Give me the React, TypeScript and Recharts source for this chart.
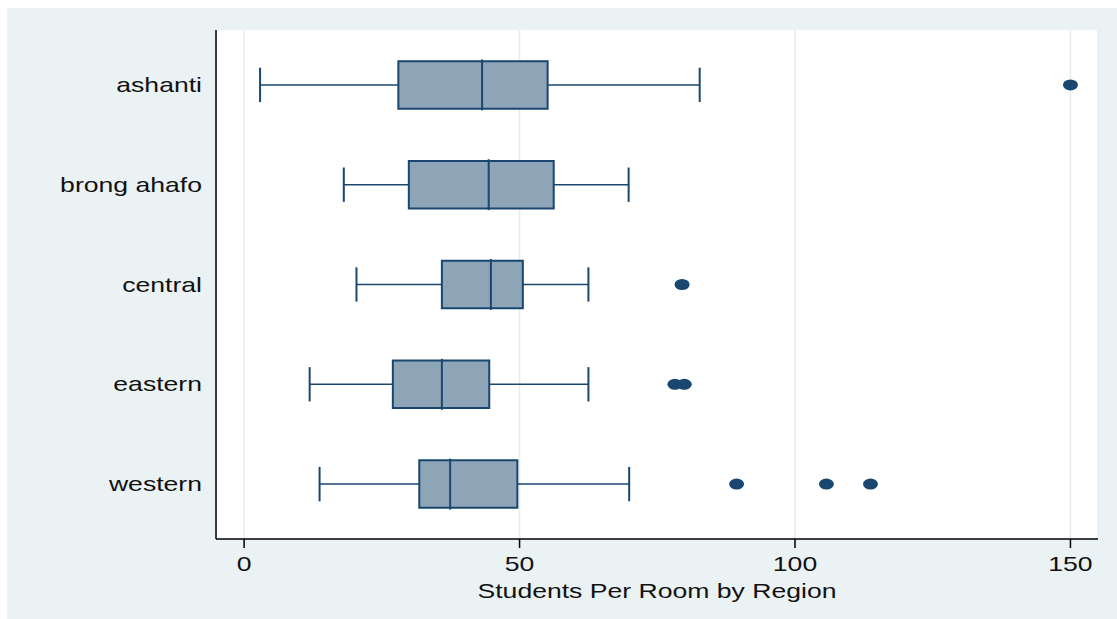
import {
  ComposedChart,
  XAxis,
  YAxis,
  CartesianGrid,
  Scatter,
  ReferenceArea,
  ReferenceLine,
} from 'recharts'

const regions = ['ashanti', 'brong ahafo', 'central', 'eastern', 'western']
const lowWhisker = [2.9, 18.1, 20.4, 11.9, 13.7]
const lowerQuartile = [28.0, 29.9, 35.9, 27.0, 31.8]
const median = [43.2, 44.4, 44.8, 35.9, 37.4]
const upperQuartile = [55.1, 56.2, 50.6, 44.5, 49.6]
const highWhisker = [82.7, 69.8, 62.5, 62.5, 69.9]

const outlierRegion = ['ashanti', 'central', 'eastern', 'eastern', 'western', 'western', 'western']
const outlierValue = [150, 79.5, 78.2, 79.9, 89.4, 105.7, 113.7]

const xTicks = [0, 50, 100, 150]

const NAVY = '#1A476F'
const BOX_FILL = '#8EA4B7'
const BG = '#EAF2F3'
const FONT = '"Liberation Sans", Arial, sans-serif'
const STRETCH = 1.33

const outliers = outlierValue.map((v, i) => ({
  x: v,
  y: regions.indexOf(outlierRegion[i]) + 1,
}))

function YTick({ x, y, payload }: any) {
  return (
    <text
      transform={`translate(${x},${y + 7}) scale(${STRETCH},1)`}
      textAnchor="end"
      fontSize={20}
      fontFamily={FONT}
      fill="#111"
    >
      {regions[payload.value - 1]}
    </text>
  )
}

function XTick({ x, y, payload }: any) {
  return (
    <text
      transform={`translate(${x},${y + 21}) scale(${STRETCH},1)`}
      textAnchor="middle"
      fontSize={20}
      fontFamily={FONT}
      fill="#111"
    >
      {payload.value}
    </text>
  )
}

function AxisTitle({ viewBox }: any) {
  const { x, y, width } = viewBox
  return (
    <text
      transform={`translate(${x + width / 2},${y + 59}) scale(${STRETCH},1)`}
      textAnchor="middle"
      fontSize={20}
      fontFamily={FONT}
      fill="#111"
    >
      Students Per Room by Region
    </text>
  )
}

const Dot = (props: any) => (
  <ellipse cx={props.cx} cy={props.cy} rx={7.5} ry={5.5} fill={NAVY} />
)

export default function App() {
  return (
    <div
      style={{
        position: 'fixed',
        left: 7,
        top: 8,
        width: 1110,
        height: 611,
        background: BG,
      }}
    >
      <ComposedChart
        width={1110}
        height={611}
        margin={{ top: 22, right: 19, bottom: 20, left: 0 }}
      >
        <CartesianGrid horizontal={false} stroke="#E3EDF0" strokeWidth={1.5} fill="#fff" />
        <XAxis
          type="number"
          dataKey="x"
          domain={[-5.1, 155]}
          ticks={xTicks}
          allowDataOverflow
          height={60}
          tickSize={9}
          tickLine={{ stroke: '#000', strokeWidth: 1.5 }}
          axisLine={{ stroke: '#000', strokeWidth: 1.5 }}
          tick={<XTick />}
          label={{ value: 'Students Per Room by Region', content: <AxisTitle /> }}
        />
        <YAxis
          type="number"
          dataKey="y"
          domain={[0.45, 5.55]}
          ticks={[1, 2, 3, 4, 5]}
          reversed
          allowDataOverflow
          width={209}
          tickSize={0}
          tickMargin={14}
          tickLine={false}
          axisLine={{ stroke: '#000', strokeWidth: 1.5 }}
          tick={<YTick />}
        />
        {regions.map((r, i) => {
          const pos = i + 1
          return [
            <ReferenceLine
              key={`wl-${r}`}
              segment={[{ x: lowWhisker[i], y: pos }, { x: lowerQuartile[i], y: pos }]}
              stroke={NAVY}
              strokeWidth={1.5}
            />,
            <ReferenceLine
              key={`wh-${r}`}
              segment={[{ x: upperQuartile[i], y: pos }, { x: highWhisker[i], y: pos }]}
              stroke={NAVY}
              strokeWidth={1.5}
            />,
            <ReferenceLine
              key={`cl-${r}`}
              segment={[{ x: lowWhisker[i], y: pos - 0.172 }, { x: lowWhisker[i], y: pos + 0.172 }]}
              stroke={NAVY}
              strokeWidth={2}
            />,
            <ReferenceLine
              key={`ch-${r}`}
              segment={[{ x: highWhisker[i], y: pos - 0.172 }, { x: highWhisker[i], y: pos + 0.172 }]}
              stroke={NAVY}
              strokeWidth={2}
            />,
            <ReferenceArea
              key={`box-${r}`}
              x1={lowerQuartile[i]}
              x2={upperQuartile[i]}
              y1={pos - 0.238}
              y2={pos + 0.238}
              fill={BOX_FILL}
              fillOpacity={1}
              stroke={NAVY}
              strokeWidth={2}
            />,
            <ReferenceLine
              key={`md-${r}`}
              segment={[{ x: median[i], y: pos - 0.255 }, { x: median[i], y: pos + 0.255 }]}
              stroke={NAVY}
              strokeWidth={2}
            />,
          ]
        })}
        <Scatter data={outliers} shape={<Dot />} isAnimationActive={false} />
      </ComposedChart>
    </div>
  )
}
